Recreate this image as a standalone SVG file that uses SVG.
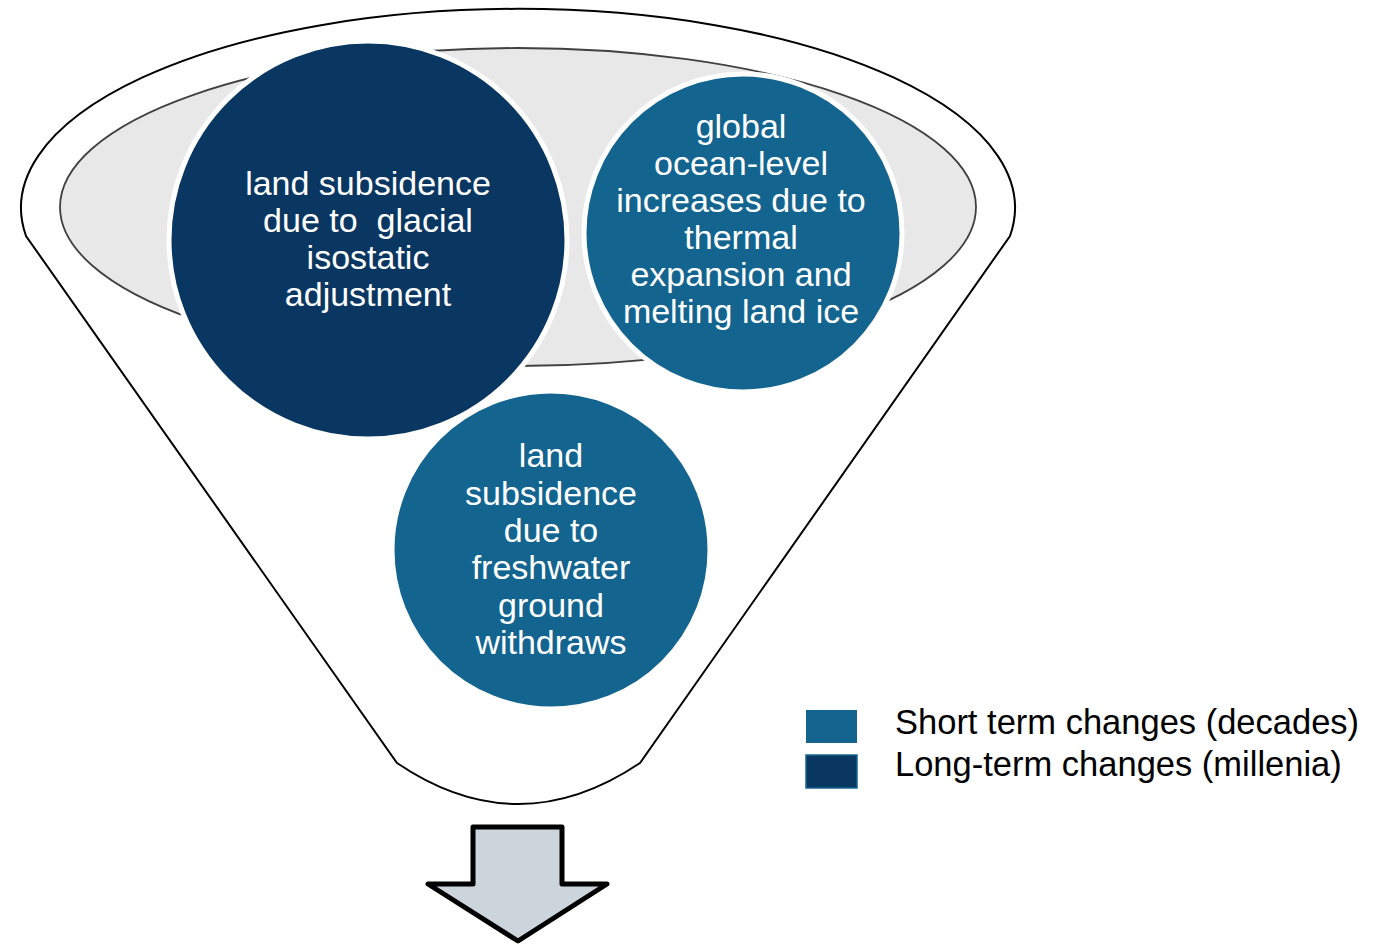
<svg xmlns="http://www.w3.org/2000/svg" width="1381" height="944" viewBox="0 0 1381 944">
<style>
.lbl{font-family:"Liberation Sans",Arial,sans-serif;font-size:34px;fill:#ffffff;text-anchor:middle;white-space:pre}
.leg{font-family:"Liberation Sans",Arial,sans-serif;font-size:34.5px;fill:#000000}
.short{fill:#13658f}
.long{fill:#0a3761}
.circ{stroke:#ffffff;stroke-width:5}
</style>
<rect width="1381" height="944" fill="#ffffff"/>
<g id="funnel">
<path d="M 26 236 A 497 199 0 1 1 1010 236 L 640 763 Q 518 845 397 763 Z" fill="#ffffff" stroke="#000000" stroke-width="2"/>
<ellipse cx="518" cy="207" rx="458" ry="159" fill="#e8e8e8" stroke="#404040" stroke-width="1.8"/>
</g>
<g id="node-glacial">
<circle class="long circ" cx="368" cy="240" r="199"/>
<text class="lbl" xml:space="preserve"><tspan x="368" y="195">land subsidence</tspan><tspan x="368" y="232">due to  glacial</tspan><tspan x="368" y="269">isostatic</tspan><tspan x="368" y="306">adjustment</tspan></text>
</g>
<g id="node-ocean">
<circle class="short circ" cx="743" cy="233" r="159"/>
<text class="lbl"><tspan x="741" y="138">global</tspan><tspan x="741" y="175">ocean-level</tspan><tspan x="741" y="212">increases due to</tspan><tspan x="741" y="249">thermal</tspan><tspan x="741" y="286">expansion and</tspan><tspan x="741" y="323">melting land ice</tspan></text>
</g>
<g id="node-freshwater">
<circle class="short circ" cx="551" cy="550" r="159"/>
<text class="lbl"><tspan x="551" y="467">land</tspan><tspan x="551" y="505">subsidence</tspan><tspan x="551" y="542">due to</tspan><tspan x="551" y="579">freshwater</tspan><tspan x="551" y="617">ground</tspan><tspan x="551" y="654">withdraws</tspan></text>
</g>
<g id="connectors">
<path d="M 473 827 L 562 827 L 562 884 L 607 884 L 518 941 L 428 884 L 473 884 Z" fill="#ccd4dc" stroke="#000000" stroke-width="5" stroke-linejoin="round"/>
</g>
<g id="legend">
<rect class="short" x="806" y="710" width="51" height="33"/>
<rect class="long" x="806" y="755" width="51" height="33" stroke="#13658f" stroke-width="1.5"/>
<text class="leg" x="895" y="734">Short term changes (decades)</text>
<text class="leg" x="895" y="776">Long-term changes (millenia)</text>
</g>
</svg>
